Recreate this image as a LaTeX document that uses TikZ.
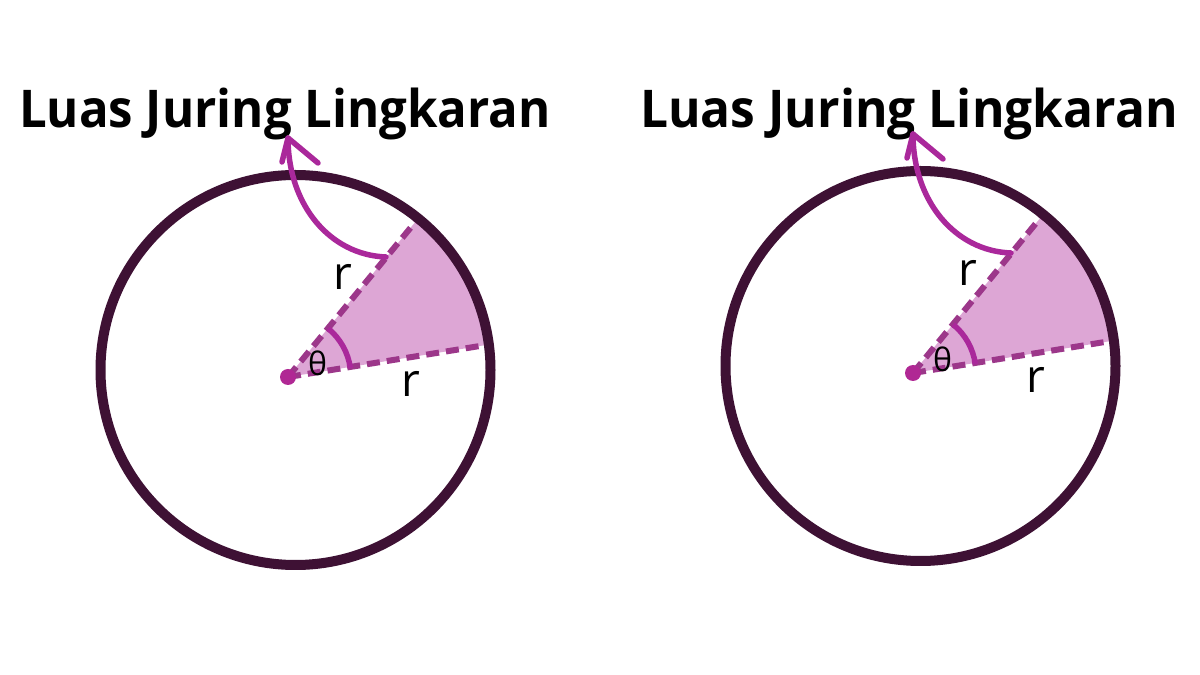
\documentclass[tikz,border=0pt]{standalone}
\usepackage{fontspec}
\setmainfont{Open Sans}
\usetikzlibrary{calc}
\definecolor{rim}{RGB}{62,17,52}
\definecolor{sectorfill}{RGB}{221,166,213}
\definecolor{dashcol}{RGB}{156,55,138}
\definecolor{arrowcol}{RGB}{170,40,155}
\definecolor{dotcol}{RGB}{176,40,148}
\begin{document}
\begin{tikzpicture}[x=1pt,y=1pt,
  rimline/.style={draw=rim,line width=10pt},
  radiusline/.style={draw=dashcol,line width=6pt,dash pattern=on 13pt off 7pt},
  anglearc/.style={draw=arrowcol,line width=5.5pt},
  curvearrow/.style={draw=arrowcol,line width=5.5pt,line cap=round,line join=round},
  titletext/.style={font=\bfseries\fontsize{52}{60}\selectfont,anchor=base,inner sep=0pt},
  rlabel/.style={font=\fontsize{46}{50}\selectfont,inner sep=0pt},
  thlabel/.style={font=\fontsize{32}{36}\selectfont,inner sep=0pt}]
\useasboundingbox[fill=white] (0,0) rectangle (1200,675);
\node[titletext] (t1) at (285,547) {\scalebox{0.945}[1]{Luas Juring Lingkaran}};
\node[titletext] (t2) at (909,547) {\scalebox{0.955}[1]{Luas Juring Lingkaran}};
\foreach \i/\dx/\dy in {1/0/0,2/625/4}{
  \coordinate (C\i) at (295.5+\dx,305+\dy);
  \coordinate (A\i) at (288+\dx,298+\dy);
  \coordinate (U\i) at ($(C\i)+(51:195)$);
  \coordinate (L\i) at ($(C\i)+(7.5:195)$);
  \fill[sectorfill] (L\i) arc[start angle=7.5,end angle=51,radius=195] -- (A\i) -- cycle;
  \draw[radiusline] (A\i) -- (L\i);
  \draw[radiusline] (A\i) -- (U\i);
  \draw[rimline] (C\i) circle[radius=195];
  \draw[anglearc] ($(A\i)+(8:63)$) arc[start angle=8,end angle=50.5,radius=63];
  \fill[dotcol] (A\i) circle[radius=8];
  \node[thlabel] (th\i) at (317.5+\dx,312+\dy) {θ};
  \node[rlabel] (ru\i) at (343+\dx,398+\dy) {r};
  \node[rlabel] (rl\i) at (411+\dx,291+\dy) {r};
  \coordinate (S\i) at (386+\dx,418+\dy);
  \coordinate (T\i) at (288+\dx,537+\dy);
  \coordinate (BR\i) at (318+\dx,512+\dy);
  \coordinate (BL\i) at (282+\dx,513+\dy);
  \draw[curvearrow] (S\i) .. controls (330+\dx,420+\dy) and (288+\dx,470+\dy) .. (T\i);
  \draw[curvearrow] (BR\i) -- (T\i) -- (BL\i);
}
\end{tikzpicture}
\end{document}
